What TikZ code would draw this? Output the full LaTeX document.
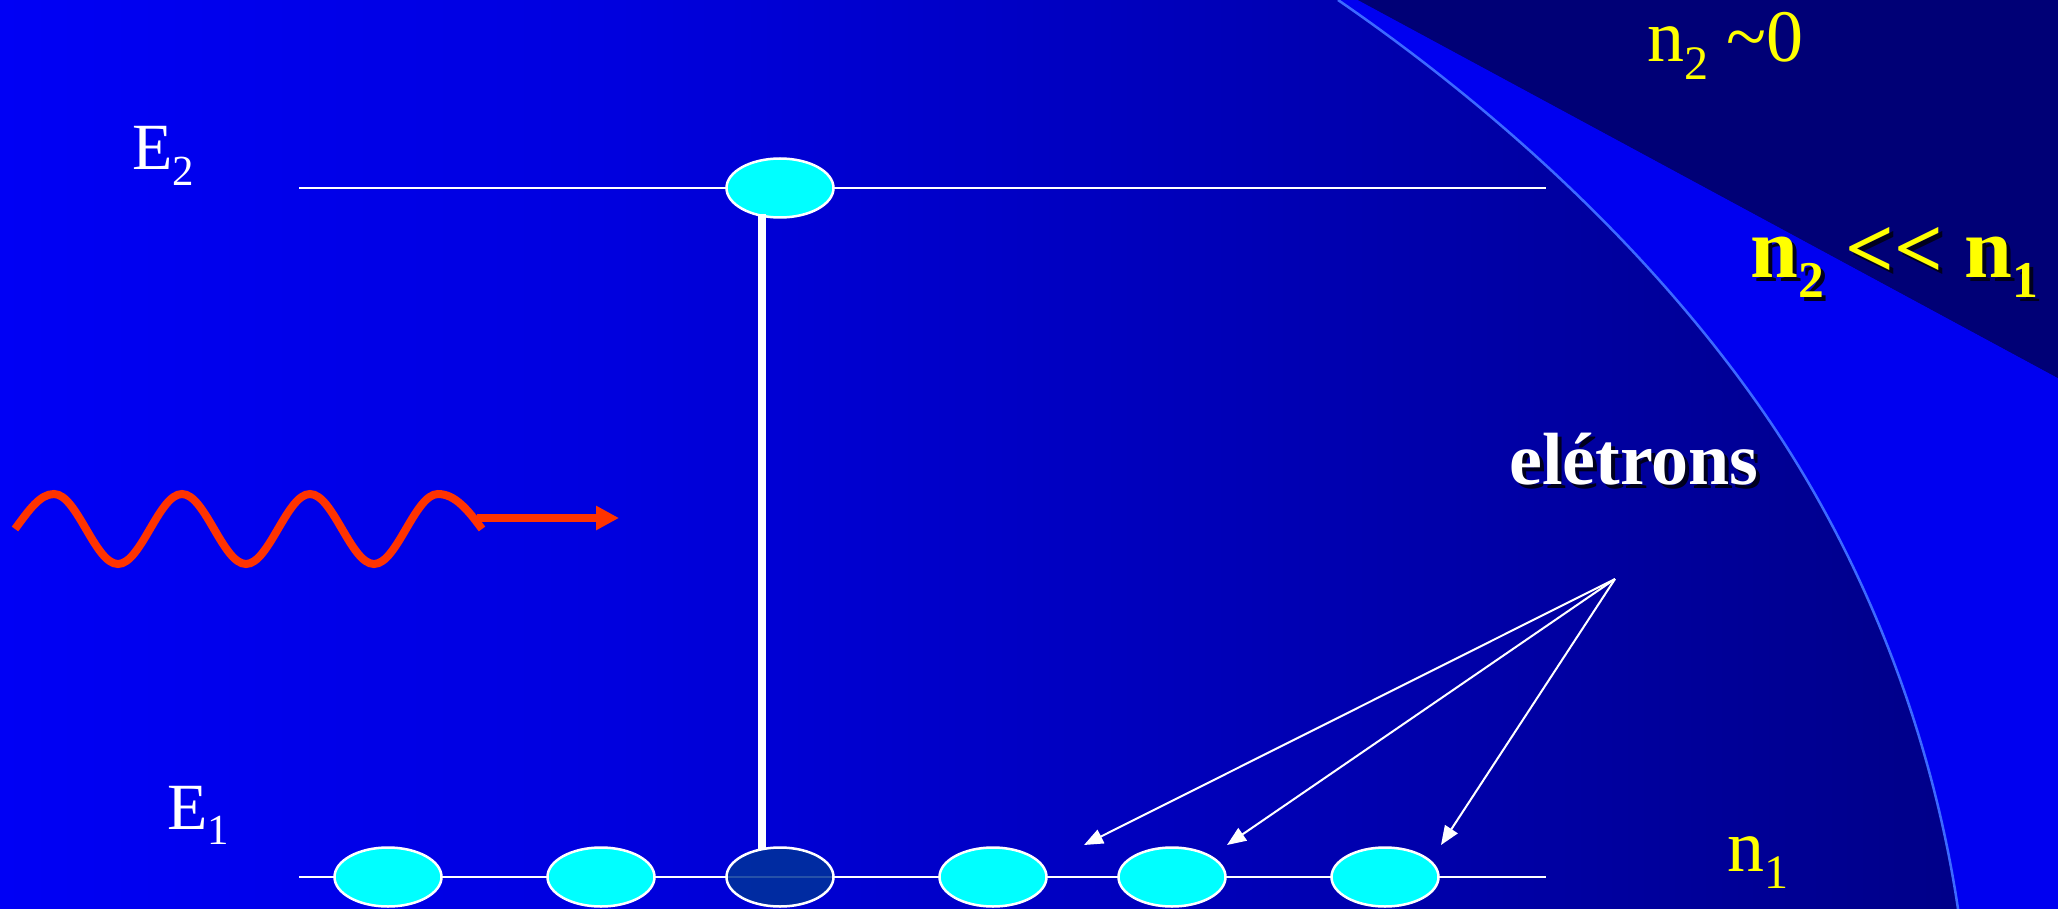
\documentclass[tikz,border=0pt]{standalone}
\usepackage{fontspec}
\setmainfont{Liberation Serif}
\usetikzlibrary{arrows.meta,shapes.geometric,backgrounds}
\definecolor{bgA}{RGB}{0,0,245}
\definecolor{bgB}{RGB}{0,0,222}
\definecolor{bgC}{RGB}{0,0,130}
\definecolor{bandblue}{RGB}{0,0,240}
\definecolor{cornerblue}{RGB}{0,0,118}
\definecolor{edgeblue}{RGB}{60,105,255}
\definecolor{elec}{RGB}{0,255,255}
\definecolor{elecdark}{RGB}{0,51,153}
\definecolor{photon}{RGB}{255,51,0}
\definecolor{lbl}{RGB}{255,255,0}
\definecolor{shadowc}{RGB}{0,0,30}
\pgfdeclarehorizontalshading{bgshade}{100bp}{color(0bp)=(bgA); color(25bp)=(bgA); color(40bp)=(bgB); color(75bp)=(bgC); color(100bp)=(bgC)}
\newcommand{\lowsub}[2][0.65]{\raisebox{-0.23em}{\scalebox{#1}{#2}}}
\tikzset{
  electron/.style={ellipse, draw=white, line width=2.5pt, fill=elec, minimum width=107pt, minimum height=59pt, inner sep=0pt, outer sep=0pt},
  hole/.style={electron, fill=elecdark, fill opacity=0.85},
  level/.style={white, line width=2.5pt},
  rod/.style={white, line width=8pt},
  pointer/.style={white, line width=2pt, -{Triangle[length=19pt,width=15pt]}},
  wave/.style={photon, line width=8pt},
  photonarrow/.style={photon, line width=8pt, -{Triangle[length=23pt,width=23pt]}},
  plainlbl/.style={inner sep=0pt, anchor=base west, font=\fontsize{74}{80}\selectfont},
  elbl/.style={inner sep=0pt, anchor=base west, text=white, font=\fontsize{66}{70}\selectfont},
  boldlbl/.style={inner sep=0pt, anchor=base west, font=\fontsize{86}{94}\selectfont\bfseries},
  wordlbl/.style={inner sep=0pt, anchor=base west, font=\fontsize{74}{80}\selectfont\bfseries},
}
\begin{document}
\begin{tikzpicture}[x=1pt, y=-1pt]
\useasboundingbox (0,0) rectangle (2058,909);
\begin{scope}[on background layer]
  \shade[shading=bgshade] (0,0) rectangle (2058,909);
  \fill[bandblue] (1338,0) -- (1358,0) -- (2058,378) -- (2058,909) -- (1958,909)
     .. controls (1931,728) and (1861,549) .. (1755,400)
     .. controls (1645,245) and (1495,108) .. (1338,0) -- cycle;
  \fill[cornerblue] (1358,0) -- (2058,0) -- (2058,378) -- cycle;
  \draw[edgeblue, line width=2.5pt] (1338,0) .. controls (1495,108) and (1645,245) .. (1755,400)
     .. controls (1861,549) and (1931,728) .. (1958,909);
\end{scope}

% energy levels
\coordinate (e2a) at (299,188);
\coordinate (e2b) at (1546,188);
\coordinate (e1a) at (299,877);
\coordinate (e1b) at (1546,877);
\draw[level] (e2a) -- (e2b);
\draw[level] (e1a) -- (e1b);

% electrons
\node[electron] (up) at (780,188) {};
\node[electron] (b1) at (388,877) {};
\node[electron] (b2) at (601,877) {};
\node[hole] (b3) at (780,877) {};
\node[electron] (b4) at (993,877) {};
\node[electron] (b5) at (1172,877) {};
\node[electron] (b6) at (1385,877) {};

% transition rod
\draw[rod, shorten <=-3pt, shorten >=-2pt] ([xshift=-18pt]up.south) -- ([xshift=-18pt]b3.north);

% photon
\draw[wave] (15,529) .. controls (29,510) and (40,494) .. (54,494)
  .. controls (77,494) and (95,564) .. (118,564)
  .. controls (141,564) and (159,494) .. (182,494)
  .. controls (205,494) and (223,564) .. (246,564)
  .. controls (269,564) and (287,494) .. (310,494)
  .. controls (333,494) and (351,564) .. (374,564)
  .. controls (397,564) and (415,494) .. (438,494)
  .. controls (455,494) and (468,510) .. (482,529);
\coordinate (ps) at (477,518);
\coordinate (pe) at (619,518);
\draw[photonarrow] (ps) -- (pe);

% labels
\node[elbl] (lE2) at (132,170) {E\lowsub{2}};
\node[elbl] (lE1) at (167,829) {E\lowsub{1}};
\node[plainlbl, text=lbl] (ln20) at (1647,62) {n\lowsub{2} \textasciitilde0};
\node[plainlbl, text=lbl] (ln1) at (1727,871) {n\lowsub{1}};
\node[boldlbl, text=shadowc] (lcmps) at (1754,282) {n\lowsub[0.6]{2} <{}< n\lowsub[0.6]{1}};
\node[boldlbl, text=lbl] (lcmp) at (1750,278) {n\lowsub[0.6]{2} <{}< n\lowsub[0.6]{1}};
\node[wordlbl, text=shadowc] (lels) at (1513,488) {elétrons};
\node[wordlbl, text=white] (lel) at (1509,484) {elétrons};

% pointers
\coordinate (src) at (1615,579);
\coordinate (t1) at (1084,845);
\coordinate (t2) at (1227,845);
\coordinate (t3) at (1441,845);
\draw[pointer] (src) -- (t1);
\draw[pointer] (src) -- (t2);
\draw[pointer] (src) -- (t3);
\end{tikzpicture}
\end{document}
